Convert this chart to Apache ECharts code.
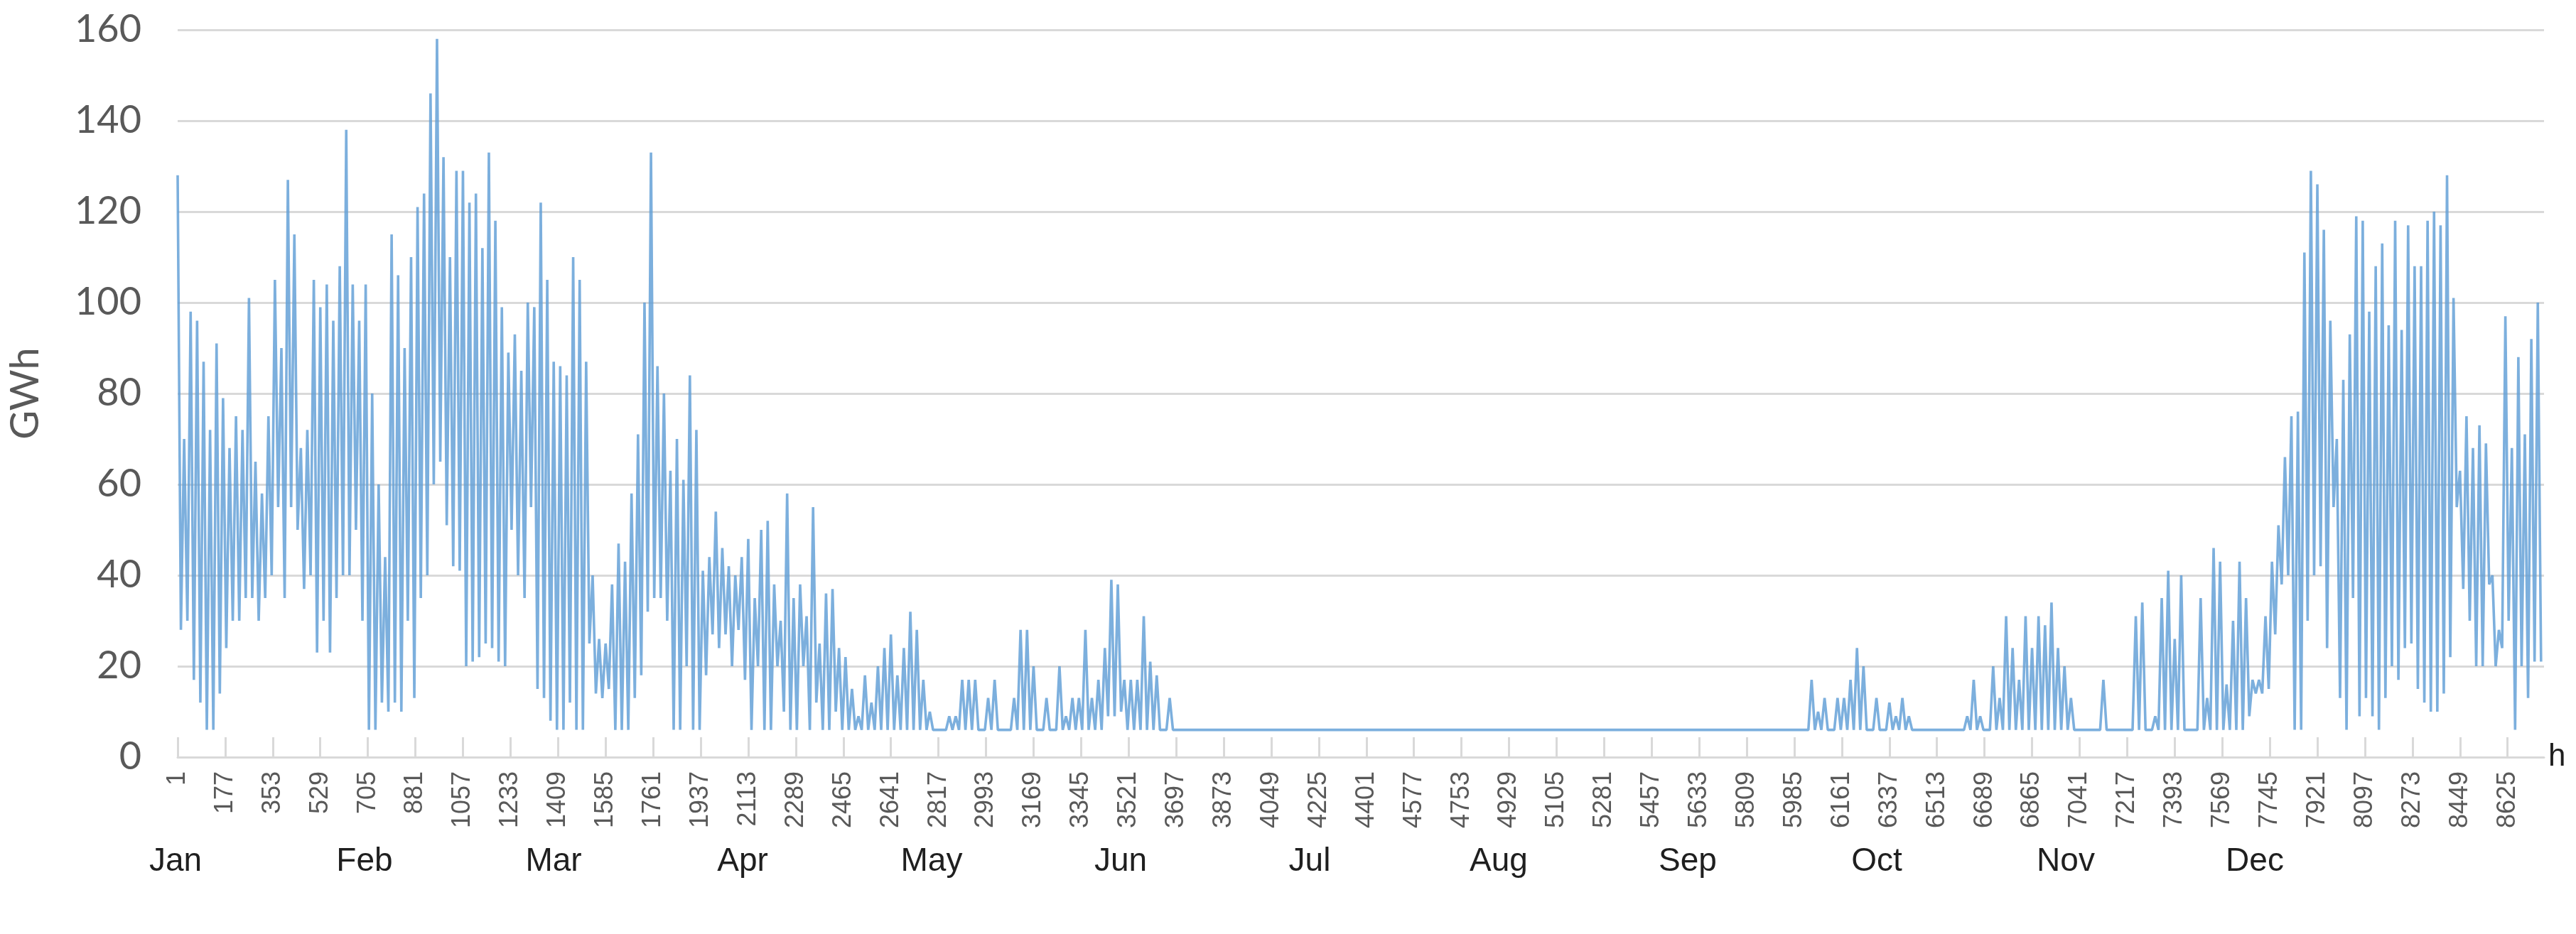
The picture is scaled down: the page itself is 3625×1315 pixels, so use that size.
<!DOCTYPE html>
<html>
<head>
<meta charset="utf-8">
<script src="https://cdn.jsdelivr.net/npm/echarts@6/dist/echarts.min.js"></script>
<style>
  html, body { margin: 0; padding: 0; background: #fff; }
  #chart { width: 3625px; height: 1315px; }
</style>
</head>
<body>
<div id="chart"></div>
<script>
// daily peak / trough (GWh), one value per day
const janHi = [128,70,98,96,87,72,91,79,68,75,72,101,65,58,75,105,90,127,115,68,72,105,99,104,96,108,138,104,96,104,80]
const janLo = [28,30,17,12,6,6,14,24,30,30,35,35,30,35,40,55,35,55,50,37,40,23,30,23,35,40,40,50,30,6,6]
const febHi = [60,44,115,106,90,110,121,124,146,158,132,110,129,129,122,124,112,133,118,99,89,93,85,100,99,122,105,87]
const febLo = [12,10,12,10,30,13,35,40,60,65,51,42,41,20,21,22,25,24,21,20,50,40,35,55,15,13,8,6]
const marHi = [86,84,110,105,87,40,26,25,38,47,43,58,71,100,133,86,80,63,70,61,84,72,41,44,54,46,42,40,44,48,35]
const marLo = [6,12,6,6,25,14,13,15,6,6,6,13,18,32,35,35,30,6,6,20,6,6,18,27,24,27,20,28,17,6,20]
const aprHi = [50,52,38,30,58,35,38,31,55,25,36,37,24,22,15,9,18,12,20,24,27,18,24,32,28,17,10,6,6,9]
const aprLo = [6,6,20,10,6,6,20,6,12,6,6,10,6,6,6,6,6,6,6,6,6,6,6,6,6,6,6,6,6,6]
const mayHi = [9,17,17,17,6,13,17,6,6,13,28,28,20,6,13,6,20,9,13,13,28,13,17,24,39,38,17,17,17,31,21]
const mayLo = [6,6,6,6,6,6,6,6,6,6,6,6,6,6,6,6,6,6,6,6,6,6,6,9,9,10,6,6,6,6,6]
const junHi = [18,6,13,6,6,6,6,6,6,6,6,6,6,6,6,6,6,6,6,6,6,6,6,6,6,6,6,6,6,6]
const junLo = [6,6,6,6,6,6,6,6,6,6,6,6,6,6,6,6,6,6,6,6,6,6,6,6,6,6,6,6,6,6]
const julHi = [6,6,6,6,6,6,6,6,6,6,6,6,6,6,6,6,6,6,6,6,6,6,6,6,6,6,6,6,6,6,6]
const julLo = [6,6,6,6,6,6,6,6,6,6,6,6,6,6,6,6,6,6,6,6,6,6,6,6,6,6,6,6,6,6,6]
const augHi = [6,6,6,6,6,6,6,6,6,6,6,6,6,6,6,6,6,6,6,6,6,6,6,6,6,6,6,6,6,6,6]
const augLo = [6,6,6,6,6,6,6,6,6,6,6,6,6,6,6,6,6,6,6,6,6,6,6,6,6,6,6,6,6,6,6]
const sepHi = [6,6,6,6,6,6,6,6,6,17,10,13,6,13,13,17,24,20,6,13,6,12,9,13,9,6,6,6,6,6]
const sepLo = [6,6,6,6,6,6,6,6,6,6,6,6,6,6,6,6,6,6,6,6,6,6,6,6,6,6,6,6,6,6]
const octHi = [6,6,6,9,17,9,6,20,13,31,24,17,31,24,31,29,34,24,20,13,6,6,6,6,17,6,6,6,6,31,34]
const octLo = [6,6,6,6,6,6,6,6,6,6,6,6,6,6,6,6,6,6,6,6,6,6,6,6,6,6,6,6,6,6,6]
const novHi = [6,9,35,41,26,40,6,6,35,13,46,43,16,30,43,35,17,17,31,43,51,66,75,76,111,129,126,116,96,70]
const novLo = [6,6,6,6,6,6,6,6,6,6,6,6,6,6,6,9,14,14,15,27,38,40,6,6,30,40,42,24,55,13]
const decHi = [83,93,119,118,98,108,113,95,118,94,117,108,108,118,120,117,128,101,63,75,68,73,69,40,28,97,68,88,71,92,100]
const decLo = [6,35,9,13,9,6,13,20,17,24,25,15,12,10,10,14,22,55,37,30,20,20,38,20,24,30,6,20,13,21,21]

const monthLabels = ['Jan', 'Feb', 'Mar', 'Apr', 'May', 'Jun', 'Jul', 'Aug', 'Sep', 'Oct', 'Nov', 'Dec']
const hoursInYear = 8760

const dailyHi = [].concat(janHi, febHi, marHi, aprHi, mayHi, junHi, julHi, augHi, sepHi, octHi, novHi, decHi)
const dailyLo = [].concat(janLo, febLo, marLo, aprLo, mayLo, junLo, julLo, augLo, sepLo, octLo, novLo, decLo)

// hour categories 1..8760
const hourCats = []
for (let h = 1; h <= hoursInYear; h++) hourCats.push(String(h))

// each day: peak then trough, placed on the hour axis
const lineData = []
dailyHi.forEach((v, d) => {
  lineData.push([d * 24, v])
  lineData.push([d * 24 + 12, dailyLo[d]])
})

const gridColor = '#d9d9d9'
const labelColor = '#595959'

const chart = echarts.init(document.getElementById('chart'))
chart.setOption({
  animation: false,
  backgroundColor: '#ffffff',
  grid: [
    { left: 224, right: 45, top: 42, bottom: 249 },
    { left: 114, width: 3192, top: 1100, height: 80 }
  ],
  xAxis: [
    {
      type: 'category',
      data: hourCats,
      boundaryGap: false,
      name: 'h',
      nameLocation: 'end',
      nameGap: 6,
      nameTextStyle: { fontSize: 44, color: '#1f1f1f', fontFamily: 'Liberation Sans', padding: [30, 0, 0, 0] },
      axisLine: { lineStyle: { color: gridColor, width: 3 } },
      axisTick: { interval: 175, inside: true, length: 28, lineStyle: { color: gridColor, width: 3 } },
      axisLabel: {
        interval: 175,
        rotate: 90,
        margin: 20,
        fontSize: 36,
        color: labelColor,
        fontFamily: 'Liberation Sans'
      },
      splitLine: { show: false }
    },
    {
      type: 'category',
      gridIndex: 1,
      data: monthLabels,
      boundaryGap: true,
      axisLine: { show: false },
      axisTick: { show: false },
      axisLabel: { margin: 10, fontSize: 46, color: '#1f1f1f', fontFamily: 'Liberation Sans' }
    }
  ],
  yAxis: [
    {
      type: 'value',
      min: 0,
      max: 160,
      interval: 20,
      name: 'GWh',
      nameLocation: 'middle',
      nameGap: 186,
      nameRotate: 90,
      nameTextStyle: { fontSize: 56, color: labelColor, fontFamily: 'Lato' },
      axisLine: { show: false },
      axisTick: { show: false },
      axisLabel: { margin: 51, fontSize: 54, color: labelColor, fontFamily: 'Lato' },
      splitLine: { lineStyle: { color: gridColor, width: 3 } }
    },
    { type: 'value', gridIndex: 1, min: 0, max: 1, show: false }
  ],
  series: [
    {
      type: 'line',
      data: lineData,
      symbol: 'none',
      sampling: null,
      lineStyle: { color: '#5b9bd5', width: 3.6, opacity: 0.8 }
    }
  ]
})
</script>
</body>
</html>
